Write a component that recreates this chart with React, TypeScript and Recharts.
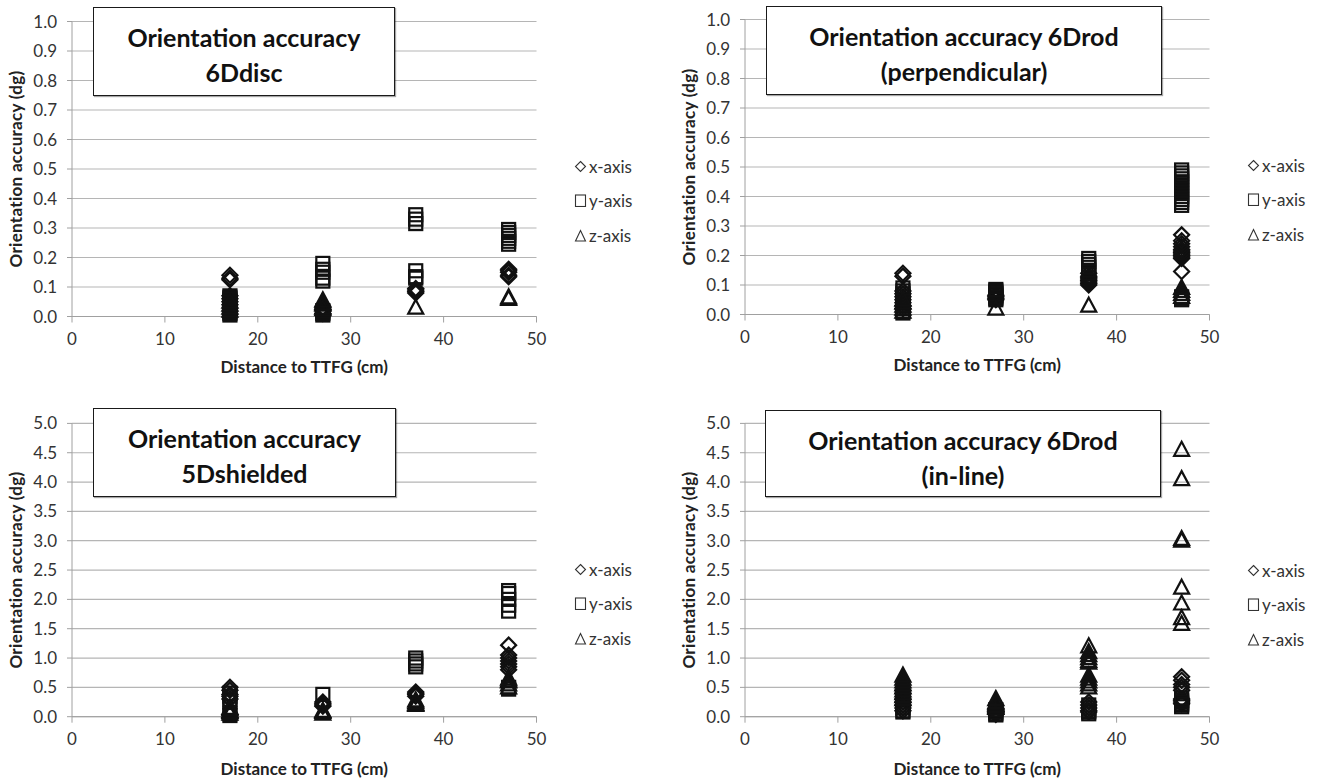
import React from 'react';
import { ScatterChart, Scatter, XAxis, YAxis, CartesianGrid, Legend, Label } from 'recharts';

const FONT = 'Lato, "Open Sans", sans-serif';

const distances = [17, 27, 37, 47];
const xTicks = [0, 10, 20, 30, 40, 50];
const smallYTicks = [0, 0.1, 0.2, 0.3, 0.4, 0.5, 0.6, 0.7, 0.8, 0.9, 1.0];
const largeYTicks = [0, 0.5, 1.0, 1.5, 2.0, 2.5, 3.0, 3.5, 4.0, 4.5, 5.0];
const seriesNames = ['x-axis', 'y-axis', 'z-axis'];
const xLabel = 'Distance to TTFG (cm)';
const yLabel = 'Orientation accuracy (dg)';

// values grouped per distance (17, 27, 37, 47 cm)
const discX = [[0.04, 0.05, 0.06, 0.07, 0.125, 0.13, 0.14], [0.01, 0.02, 0.025, 0.03], [0.08, 0.085, 0.09, 0.095], [0.135, 0.14, 0.15, 0.155, 0.16]];
const discY = [[0.005, 0.01, 0.015, 0.02, 0.025, 0.03, 0.035, 0.04, 0.045, 0.05, 0.055, 0.06, 0.065, 0.07], [0.005, 0.01, 0.015, 0.02, 0.12, 0.13, 0.15, 0.16, 0.18], [0.13, 0.135, 0.155, 0.315, 0.33, 0.345], [0.245, 0.255, 0.265, 0.275, 0.285, 0.295]];
const discZ = [[0.02, 0.03, 0.04, 0.05], [0.025, 0.03, 0.04, 0.045, 0.055], [0.03], [0.06, 0.065]];

const perpX = [[0.02, 0.03, 0.04, 0.05, 0.06, 0.07, 0.08, 0.13, 0.14], [0.05, 0.055, 0.06, 0.065], [0.1, 0.105, 0.11, 0.115, 0.12, 0.125, 0.13, 0.14], [0.146, 0.19, 0.195, 0.2, 0.205, 0.21, 0.215, 0.22, 0.23, 0.24, 0.25, 0.27]];
const perpY = [[0.005, 0.01, 0.02, 0.03, 0.04, 0.05, 0.06, 0.07, 0.08, 0.09], [0.05, 0.055, 0.06, 0.065, 0.07, 0.075, 0.08, 0.085], [0.14, 0.15, 0.16, 0.17, 0.18, 0.19], [0.05, 0.055, 0.06, 0.37, 0.38, 0.39, 0.4, 0.41, 0.42, 0.43, 0.44, 0.45, 0.46, 0.47, 0.48, 0.49]];
const perpZ = [[0.01, 0.02, 0.03, 0.04, 0.05], [0.02], [0.03], [0.06, 0.07, 0.08, 0.09]];

const shieldX = [[0.3, 0.35, 0.38, 0.45, 0.5], [0.18, 0.2, 0.22, 0.25], [0.35, 0.38, 0.4, 0.42], [0.8, 0.85, 0.9, 0.95, 1.0, 1.05, 1.22]];
const shieldY = [[0.02, 0.05, 0.25, 0.3, 0.35, 0.4], [0.38], [0.85, 0.9, 0.95, 1.0], [0.47, 0.5, 1.8, 1.9, 2.0, 2.1, 2.15]];
const shieldZ = [[0.05, 0.08, 0.1, 0.13, 0.15], [0.05, 0.08, 0.1], [0.2, 0.22, 0.25, 0.28], [0.5, 0.55, 0.6, 0.62, 0.65]];

const inlineX = [[0.1, 0.15, 0.2, 0.25, 0.3, 0.4, 0.45], [0.04, 0.06, 0.08, 0.1], [0.08, 0.1, 0.15, 0.2, 0.25], [0.22, 0.25, 0.28, 0.3, 0.45, 0.5, 0.55, 0.62, 0.68]];
const inlineY = [[0.08, 0.1, 0.15, 0.2, 0.25, 0.3, 0.35], [0.03, 0.05, 0.08, 0.12], [0.05, 0.08, 0.1, 0.15, 0.2], [0.17, 0.2, 0.22, 0.25, 0.28, 0.32]];
const inlineZ = [[0.3, 0.35, 0.4, 0.45, 0.5, 0.55, 0.6, 0.65, 0.7], [0.15, 0.18, 0.2, 0.23, 0.25, 0.3], [0.5, 0.55, 0.6, 0.65, 0.7, 0.92, 0.95, 1.0, 1.05, 1.1, 1.2], [1.58, 1.68, 1.93, 2.2, 3.0, 3.03, 4.05, 4.55]];

function toPoints(groups: number[][]) {
  return groups.flatMap((ys, i) => ys.map((y) => ({ x: distances[i], y })));
}

const STROKE = '#111';
const SW = 2.2;

const DiamondShape = (p: any) => {
  const { cx, cy } = p;
  if (cx == null || cy == null) return null;
  const r = 7.5;
  return <path d={`M${cx},${cy - r}L${cx + r},${cy}L${cx},${cy + r}L${cx - r},${cy}Z`} fill="none" stroke={STROKE} strokeWidth={SW} />;
};
const SquareShape = (p: any) => {
  const { cx, cy } = p;
  if (cx == null || cy == null) return null;
  const r = 6.5;
  return <rect x={cx - r} y={cy - r} width={2 * r} height={2 * r} fill="none" stroke={STROKE} strokeWidth={SW} />;
};
const TriangleShape = (p: any) => {
  const { cx, cy } = p;
  if (cx == null || cy == null) return null;
  return <path d={`M${cx},${cy - 8}L${cx + 7.5},${cy + 6}L${cx - 7.5},${cy + 6}Z`} fill="none" stroke={STROKE} strokeWidth={SW} />;
};
const shapes = [DiamondShape, SquareShape, TriangleShape];

const LegendIcon = ({ i }: { i: number }) => {
  if (i === 0) return <path d="M6.5,1.5L11.5,6.5L6.5,11.5L1.5,6.5Z" fill="none" stroke="#333" strokeWidth={1.1} />;
  if (i === 1) return <rect x={1.5} y={1} width={10} height={11.5} fill="none" stroke="#333" strokeWidth={1.1} />;
  return <path d="M6.5,1.5L11.5,12L1.5,12Z" fill="none" stroke="#333" strokeWidth={1.1} />;
};

const LegendContent = () => (
  <div style={{ fontFamily: FONT, fontSize: 17, color: '#333' }}>
    {seriesNames.map((n, i) => (
      <div key={n} style={{ display: 'flex', alignItems: 'center', height: 34.5 }}>
        <svg width={13} height={13} style={{ marginRight: 2 }}>
          <LegendIcon i={i} />
        </svg>
        <span>{n}</span>
      </div>
    ))}
  </div>
);

type PanelProps = {
  left: number;
  top: number;
  width: number;
  height: number;
  plotTop: number;
  plotBottom: number;
  baseline: number;
  yMax: number;
  yTicks: number[];
  series: number[][][];
  legendTop: number;
};

function Panel(props: PanelProps) {
  const { left, top, width, height, plotTop, plotBottom, baseline, yMax, yTicks, series, legendTop } = props;
  const margin = { top: plotTop, right: width - 536.5, bottom: height - baseline, left: 6 };
  return (
    <div style={{ position: 'absolute', left, top, width, height }}>
      <ScatterChart width={width} height={height} margin={margin}>
        <CartesianGrid vertical={false} stroke="#b5b5b5" strokeWidth={1.2} />
        <XAxis
          type="number"
          dataKey="x"
          domain={[0, 50]}
          ticks={xTicks}
          interval={0}
          height={baseline - plotBottom}
          stroke="#a0a0a0"
          tickSize={6}
          tickMargin={10}
          tick={{ fill: '#333', fontSize: 17, fontFamily: FONT }}
        >
          <Label value={xLabel} position="insideBottom" offset={0} style={{ fontFamily: FONT, fontWeight: 700, fontSize: 17, fill: '#222' }} />
        </XAxis>
        <YAxis
          type="number"
          dataKey="y"
          domain={[0, yMax]}
          ticks={yTicks}
          interval={0}
          width={66}
          stroke="#a0a0a0"
          tickSize={5}
          tickMargin={10}
          tickFormatter={(v: number) => v.toFixed(1)}
          tick={{ fill: '#333', fontSize: 17, fontFamily: FONT }}
        >
          <Label value={yLabel} angle={-90} position="insideLeft" offset={10} style={{ textAnchor: 'middle', fontFamily: FONT, fontWeight: 700, fontSize: 17, fill: '#222', letterSpacing: 0.3 }} />
        </YAxis>
        {series.map((s, i) => (
          <Scatter key={seriesNames[i]} name={seriesNames[i]} data={toPoints(s)} shape={shapes[i]} isAnimationActive={false} />
        ))}
        <Legend layout="vertical" align="center" verticalAlign="middle" content={<LegendContent />} wrapperStyle={{ left: 574, top: legendTop, width: 90, right: 'auto', bottom: 'auto' }} />
      </ScatterChart>
    </div>
  );
}

const TitleBox = ({ left, top, width, height, lines }: { left: number; top: number; width: number; height: number; lines: string[] }) => (
  <div
    style={{
      position: 'absolute',
      left,
      top,
      width,
      height,
      boxSizing: 'border-box',
      border: '1.5px solid #1a1a1a',
      background: '#fff',
      boxShadow: '1px 1px 1px rgba(0,0,0,0.35)',
      fontFamily: FONT,
      fontWeight: 700,
      fontSize: 25,
      color: '#111',
      textAlign: 'center',
      lineHeight: '35px',
      paddingTop: 12,
    }}
  >
    {lines.map((l) => (
      <div key={l}>{l}</div>
    ))}
  </div>
);

export default function App() {
  return (
    <div style={{ position: 'absolute', left: 0, top: 0, width: 1322, height: 783, background: '#fff' }}>
      <Panel left={0} top={0} width={660} height={390} plotTop={21.5} plotBottom={316.5} baseline={373} yMax={1} yTicks={smallYTicks} series={[discX, discY, discZ]} legendTop={149} />
      <Panel left={673} top={-1.8} width={649} height={390} plotTop={21.5} plotBottom={316.5} baseline={373} yMax={1} yTicks={smallYTicks} series={[perpX, perpY, perpZ]} legendTop={150} />
      <Panel left={0} top={390} width={660} height={393} plotTop={33.4} plotBottom={326.7} baseline={385} yMax={5} yTicks={largeYTicks} series={[shieldX, shieldY, shieldZ]} legendTop={162} />
      <Panel left={673} top={390} width={649} height={393} plotTop={33.4} plotBottom={326.7} baseline={385} yMax={5} yTicks={largeYTicks} series={[inlineX, inlineY, inlineZ]} legendTop={163} />
      <TitleBox left={93} top={7} width={302} height={89} lines={['Orientation accuracy', '6Ddisc']} />
      <TitleBox left={766} top={6} width={396} height={89} lines={['Orientation accuracy 6Drod', '(perpendicular)']} />
      <TitleBox left={93} top={408} width={303} height={89} lines={['Orientation accuracy', '5Dshielded']} />
      <TitleBox left={765} top={410} width={396} height={87} lines={['Orientation accuracy 6Drod', '(in-line)']} />
    </div>
  );
}
